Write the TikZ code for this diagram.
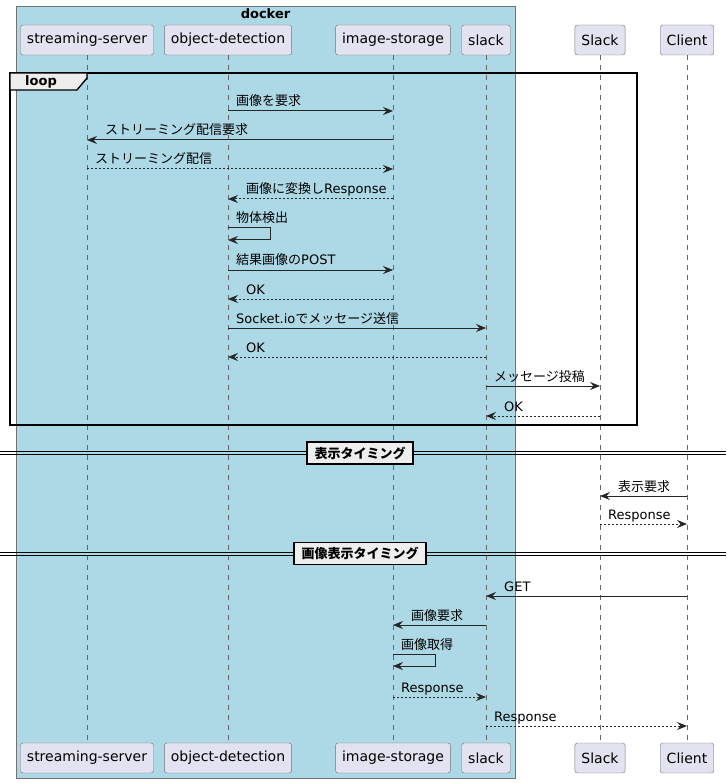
\documentclass[tikz,border=0pt]{standalone}
\usepackage{fontspec}
\setmainfont{DejaVu Sans}
\newfontfamily\jp{Noto Sans CJK JP}
\usetikzlibrary{arrows.meta}
\definecolor{dockerblue}{HTML}{ADD8E6}
\definecolor{partfill}{HTML}{E2E2F0}
\definecolor{framegray}{HTML}{EEEEEE}

\begin{document}
\begin{tikzpicture}[x=1pt, y=-1pt,
  part/.style     = {draw=black!55, fill=partfill, rounded corners=2.5pt,
                     minimum height=30pt, inner xsep=6.5pt, inner ysep=0pt,
                     font=\fontsize{14}{16}\selectfont},
  lifeline/.style = {black!60, line width=0.6pt, dash pattern=on 5pt off 5pt},
  sync/.style     = {-{Stealth[length=10pt,width=8pt,inset=3.5pt]},
                     line width=1pt, black!85},
  reply/.style    = {sync, dash pattern=on 2pt off 2pt},
  msg/.style      = {anchor=base west, inner sep=0pt,
                     font=\fontsize{13}{15}\selectfont},
  divbox/.style   = {draw, line width=1.4pt, fill=framegray,
                     minimum height=22pt, inner xsep=7.5pt, inner ysep=0pt,
                     font=\fontsize{13}{15}\selectfont\bfseries},
]
\useasboundingbox (0,0) rectangle (726,783);

% docker box
\draw[black!55, line width=0.8pt, fill=dockerblue] (16,6) rectangle (515,778);
\node[font=\fontsize{13}{15}\selectfont\bfseries] (dockerlbl) at (265.5,14) {docker};

% participants, top and bottom
\foreach \n/\x/\t in {ss/87/streaming-server, od/228/object-detection,
                      imgst/393/image-storage, sl/486/slack,
                      slk/600/Slack, cli/687/Client} {
  \node[part] (\n-t) at (\x,40)  {\t};
  \node[part] (\n-b) at (\x,758) {\t};
  \draw[lifeline] (\n-t) -- (\n-b);
}

% loop frame
\draw[line width=1.4pt] (10,73) rectangle (637,425);
\draw[line width=1.4pt, fill=framegray]
  (10,73) -- (87,73) -- (87,78) -- (77,90) -- (10,90) -- cycle;
\node[font=\fontsize{13}{15}\selectfont\bfseries, anchor=west, inner sep=0pt]
  (looplbl) at (25,81.5) {loop};

\draw[sync] (od-t |- 0,111) -- (imgst-t |- 0,111);
\node[msg] (m1) at ([xshift=8pt]od-t |- 0,106) {\jp 画像を要求};

\draw[sync] (imgst-t |- 0,140) -- (ss-t |- 0,140);
\node[msg] (m2) at ([xshift=18pt]ss-t |- 0,135) {\jp ストリーミング配信要求};

\draw[reply] (ss-t |- 0,169) -- (imgst-t |- 0,169);
\node[msg] (m3) at ([xshift=8pt]ss-t |- 0,164) {\jp ストリーミング配信};

\draw[reply] (imgst-t |- 0,199) -- (od-t |- 0,199);
\node[msg] (m4) at ([xshift=18pt]od-t |- 0,194) {{\jp 画像に変換し}Response};

\draw[sync] (od-t |- 0,228) -- ++(42,0) -- ++(0,12) -- (od-t |- 0,240);
\node[msg] (m5) at ([xshift=8pt]od-t |- 0,223) {\jp 物体検出};

\draw[sync] (od-t |- 0,270) -- (imgst-t |- 0,270);
\node[msg] (m6) at ([xshift=8pt]od-t |- 0,265) {{\jp 結果画像の}POST};

\draw[reply] (imgst-t |- 0,299) -- (od-t |- 0,299);
\node[msg] (m7) at ([xshift=18pt]od-t |- 0,294) {OK};

\draw[sync] (od-t |- 0,328) -- (sl-t |- 0,328);
\node[msg] (m8) at ([xshift=8pt]od-t |- 0,323) {Socket.io{\jp でメッセージ送信}};

\draw[reply] (sl-t |- 0,357) -- (od-t |- 0,357);
\node[msg] (m9) at ([xshift=18pt]od-t |- 0,352) {OK};

\draw[sync] (sl-t |- 0,386) -- (slk-t |- 0,386);
\node[msg] (m10) at ([xshift=8pt]sl-t |- 0,381) {\jp メッセージ投稿};

\draw[reply] (slk-t |- 0,416) -- (sl-t |- 0,416);
\node[msg] (m11) at ([xshift=18pt]sl-t |- 0,411) {OK};

% divider: display timing
\draw[line width=1pt] (0,451.5) -- (726,451.5) (0,454.5) -- (726,454.5);
\node[divbox] (div1) at (360,453) {\jp 表示タイミング};

\draw[sync] (cli-t |- 0,496) -- (slk-t |- 0,496);
\node[msg] (m12) at ([xshift=18pt]slk-t |- 0,491) {\jp 表示要求};

\draw[reply] (slk-t |- 0,524) -- (cli-t |- 0,524);
\node[msg] (m13) at ([xshift=8pt]slk-t |- 0,519) {Response};

% divider: image display timing
\draw[line width=1pt] (0,552) -- (726,552) (0,555) -- (726,555);
\node[divbox] (div2) at (360,553.5) {\jp 画像表示タイミング};

\draw[sync] (cli-t |- 0,596) -- (sl-t |- 0,596);
\node[msg] (m14) at ([xshift=18pt]sl-t |- 0,591) {GET};

\draw[sync] (sl-t |- 0,625) -- (imgst-t |- 0,625);
\node[msg] (m15) at ([xshift=18pt]imgst-t |- 0,620) {\jp 画像要求};

\draw[sync] (imgst-t |- 0,654) -- ++(42,0) -- ++(0,12) -- (imgst-t |- 0,666);
\node[msg] (m16) at ([xshift=8pt]imgst-t |- 0,649) {\jp 画像取得};

\draw[reply] (imgst-t |- 0,697) -- (sl-t |- 0,697);
\node[msg] (m17) at ([xshift=8pt]imgst-t |- 0,692) {Response};

\draw[reply] (sl-t |- 0,726) -- (cli-t |- 0,726);
\node[msg] (m18) at ([xshift=8pt]sl-t |- 0,721) {Response};

\end{tikzpicture}
\end{document}
